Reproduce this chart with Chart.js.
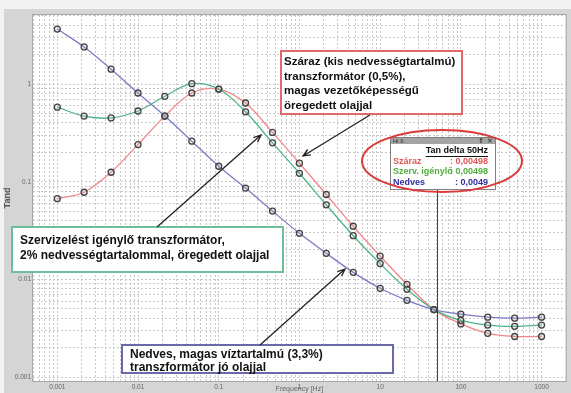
<!DOCTYPE html>
<html>
<head>
<meta charset="utf-8">
<script src="https://cdn.jsdelivr.net/npm/chart.js@4/dist/chart.umd.min.js"></script>
<style>
  html, body { margin: 0; padding: 0; background: #fff; }
  #wrap { width: 571px; height: 393px; }
</style>
</head>
<body>
<div id="wrap"><canvas id="chart" width="571" height="393"></canvas></div>
<script>
// frekvenciák (Hz) és a tan delta értékek
const freqs = [0.001, 0.00215, 0.00464, 0.01, 0.0215, 0.0464, 0.1, 0.215, 0.464, 1, 2.15, 4.64, 10, 21.5, 46.4, 100, 215, 464, 1000];
const nedves = [3.66, 2.4, 1.42, 0.81, 0.47, 0.26, 0.144, 0.086, 0.05, 0.0296, 0.0185, 0.0118, 0.0081, 0.0061, 0.0049, 0.0044, 0.0041, 0.004, 0.0041];
const szaraz = [0.067, 0.078, 0.125, 0.24, 0.47, 0.81, 0.89, 0.64, 0.32, 0.155, 0.074, 0.035, 0.0173, 0.0089, 0.0049, 0.0035, 0.0028, 0.0026, 0.0026];
const szerviz = [0.58, 0.47, 0.45, 0.53, 0.75, 1.01, 0.89, 0.52, 0.25, 0.122, 0.058, 0.028, 0.0145, 0.0079, 0.0049, 0.0038, 0.0034, 0.0033, 0.0034];
const xTickLabels = ["0.001", "0.01", "0.1", "1", "10", "100", "1000"];
const yTickLabels = ["0.001", "0.01", "0.1", "1"];
const markerFreq = 50;

const toPoints = arr => arr.map((v, i) => ({ x: freqs[i], y: v }));

// 1..9 * 10^n tick list for the log grid
function logTicks(scale) {
  const ticks = [];
  const e0 = Math.floor(Math.log10(scale.min));
  const e1 = Math.ceil(Math.log10(scale.max));
  for (let e = e0; e <= e1; e++) {
    for (let m = 1; m <= 9; m++) {
      const v = Number((m * Math.pow(10, e)).toPrecision(3));
      if (v >= scale.min && v <= scale.max) ticks.push({ value: v, major: m === 1 });
    }
  }
  scale.ticks = ticks;
}

function tickLabel(labels) {
  return function (value) {
    const s = String(Number(value.toPrecision(3)));
    return labels.includes(s) ? s : "";
  };
}

function arrow(ctx, x1, y1, x2, y2) {
  const a = Math.atan2(y2 - y1, x2 - x1);
  const h = 8;
  ctx.beginPath();
  ctx.moveTo(x1, y1);
  ctx.lineTo(x2, y2);
  ctx.moveTo(x2 - h * Math.cos(a - 0.4), y2 - h * Math.sin(a - 0.4));
  ctx.lineTo(x2, y2);
  ctx.lineTo(x2 - h * Math.cos(a + 0.4), y2 - h * Math.sin(a + 0.4));
  ctx.stroke();
}

function textBox(ctx, x, y, w, h, color, lines, tx, ty, lh, size) {
  ctx.fillStyle = "#fff";
  ctx.fillRect(x, y, w, h);
  ctx.strokeStyle = color;
  ctx.lineWidth = 2;
  ctx.strokeRect(x, y, w, h);
  ctx.fillStyle = "#111";
  ctx.font = "bold " + size + "px 'Liberation Sans', Arial, sans-serif";
  ctx.textBaseline = "middle";
  ctx.textAlign = "left";
  lines.forEach((t, i) => ctx.fillText(t, tx, ty + i * lh));
}

const frame = {
  id: "frame",
  beforeDraw(chart) {
    const { ctx, chartArea: a } = chart;
    ctx.save();
    ctx.fillStyle = "#d5d5d5";
    ctx.fillRect(0, 0, chart.width, chart.height);
    ctx.fillStyle = "#f2f2f2";
    ctx.fillRect(0, 0, chart.width, 9);
    ctx.fillRect(0, 0, 4, chart.height);
    ctx.fillStyle = "#fff";
    ctx.fillRect(a.left, a.top, a.right - a.left, a.bottom - a.top);
    ctx.strokeStyle = "#a8a8a8";
    ctx.lineWidth = 1;
    ctx.strokeRect(a.left - 0.5, a.top - 0.5, a.right - a.left + 1, a.bottom - a.top + 1);
    ctx.restore();
  },
  afterDraw(chart) {
    const { ctx, chartArea: a } = chart;
    const xs = chart.scales.x;
    ctx.save();

    // 50 Hz jelölő vonal
    const mx = Math.round(xs.getPixelForValue(markerFreq)) + 0.5;
    ctx.strokeStyle = "#404040";
    ctx.lineWidth = 1;
    ctx.beginPath();
    ctx.moveTo(mx, 189);
    ctx.lineTo(mx, a.bottom);
    ctx.stroke();

    // szöveges dobozok
    textBox(ctx, 281, 51, 181, 63, "#e06a6a",
      ["Száraz (kis nedvességtartalmú)", "transzformátor (0,5%),", "magas vezetőképességű", "öregedett olajjal"],
      284, 62, 14.5, 11.5);
    textBox(ctx, 12, 227, 271, 45, "#6cbf98",
      ["Szervizelést igénylő transzformátor,", "2% nedvességtartalommal, öregedett olajjal"],
      20, 241, 15, 12);
    textBox(ctx, 122, 345, 271, 28, "#6a6aa8",
      ["Nedves, magas víztartalmú (3,3%)", "transzformátor jó olajjal"],
      130, 355, 12.5, 12);

    ctx.strokeStyle = "#222";
    ctx.lineWidth = 1.3;
    arrow(ctx, 370, 115, 303, 156);
    arrow(ctx, 157, 227, 261, 135);
    arrow(ctx, 260, 345, 345, 269);

    // kis érték-ablak
    const px = 390, py = 137, pw = 105, ph = 52;
    ctx.fillStyle = "#fff";
    ctx.fillRect(px, py, pw, ph);
    ctx.fillStyle = "#a4a4a4";
    ctx.fillRect(px, py, pw, 7);
    ctx.strokeStyle = "#808080";
    ctx.lineWidth = 1;
    ctx.strokeRect(px + 0.5, py + 0.5, pw, ph);
    ctx.fillStyle = "#333";
    ctx.font = "6px 'Liberation Sans', sans-serif";
    ctx.textBaseline = "middle";
    ctx.textAlign = "left";
    ctx.fillText("Hi δ", px + 3, py + 4);
    ctx.font = "bold 7px 'DejaVu Sans', sans-serif";
    ctx.fillText("⇑", px + 88, py + 4);
    ctx.fillText("✕", px + 97, py + 4);

    ctx.font = "bold 9px 'Liberation Sans', Arial, sans-serif";
    ctx.textAlign = "right";
    ctx.fillStyle = "#111";
    ctx.fillText("Tan delta 50Hz", px + 98, 151);
    const tw = ctx.measureText("Tan delta 50Hz").width;
    ctx.fillRect(px + 98 - tw, 156, tw, 1);
    const rows = [
      ["Száraz", ": 0,00498", "#e25454", 162],
      ["Szerv. igénylő", ": 0,00498", "#4fae3c", 172],
      ["Nedves", ": 0,0049", "#2e2e9e", 183]
    ];
    rows.forEach(([n, v, c, y]) => {
      ctx.fillStyle = c;
      ctx.textAlign = "left";
      ctx.fillText(n, px + 3, y);
      ctx.textAlign = "right";
      ctx.fillText(v, px + 98, y);
    });

    // piros ellipszis
    ctx.strokeStyle = "#d93a3a";
    ctx.lineWidth = 2;
    ctx.beginPath();
    ctx.ellipse(442, 161, 80, 31, 0, 0, Math.PI * 2);
    ctx.stroke();

    ctx.restore();
  }
};

const ds = (label, arr, color) => ({
  label,
  data: toPoints(arr),
  borderColor: color,
  backgroundColor: color,
  borderWidth: 1.3,
  showLine: true,
  tension: 0.35,
  pointRadius: 3,
  pointBorderWidth: 1.3,
  pointBorderColor: "#444",
  pointBackgroundColor: "rgba(170,170,170,0.25)"
});

const chart = new Chart(document.getElementById("chart"), {
  type: "scatter",
  data: {
    datasets: [
      ds("Nedves", nedves, "#7c7cc6"),
      ds("Szerv. igénylő", szerviz, "#4fb38a"),
      ds("Száraz", szaraz, "#f08888")
    ]
  },
  options: {
    responsive: false,
    animation: false,
    layout: { padding: { top: 15, left: 0, right: 0, bottom: 0 } },
    plugins: { legend: { display: false }, tooltip: { enabled: false } },
    scales: {
      x: {
        type: "logarithmic",
        min: 0.0005,
        max: 1990,
        afterFit: s => { s.height = 12; },
        afterBuildTicks: logTicks,
        grid: { color: "#c8c8c8", lineWidth: 1, drawTicks: false },
        border: { display: false, dash: [2, 2] },
        ticks: {
          autoSkip: false, maxRotation: 0, padding: 2,
          color: "#666", font: { size: 6.5, family: "'Liberation Sans', Arial" },
          callback: tickLabel(xTickLabels)
        },
        title: {
          display: true, text: "Frequency [Hz]", color: "#666",
          font: { size: 7, family: "'Liberation Sans', Arial" }, padding: 0
        }
      },
      y: {
        type: "logarithmic",
        min: 0.00091,
        max: 5.1,
        afterFit: s => { s.width = 33; },
        afterBuildTicks: logTicks,
        grid: { color: "#c8c8c8", lineWidth: 1, drawTicks: false },
        border: { display: false, dash: [2, 2] },
        ticks: {
          autoSkip: false, padding: 2,
          color: "#666", font: { size: 6.5, family: "'Liberation Sans', Arial" },
          callback: tickLabel(yTickLabels)
        },
        title: {
          display: true, text: "Tand", color: "#555",
          font: { size: 9, weight: "bold", family: "'Liberation Sans', Arial" }, padding: 2
        }
      }
    }
  },
  plugins: [frame]
});
</script>
</body>
</html>
